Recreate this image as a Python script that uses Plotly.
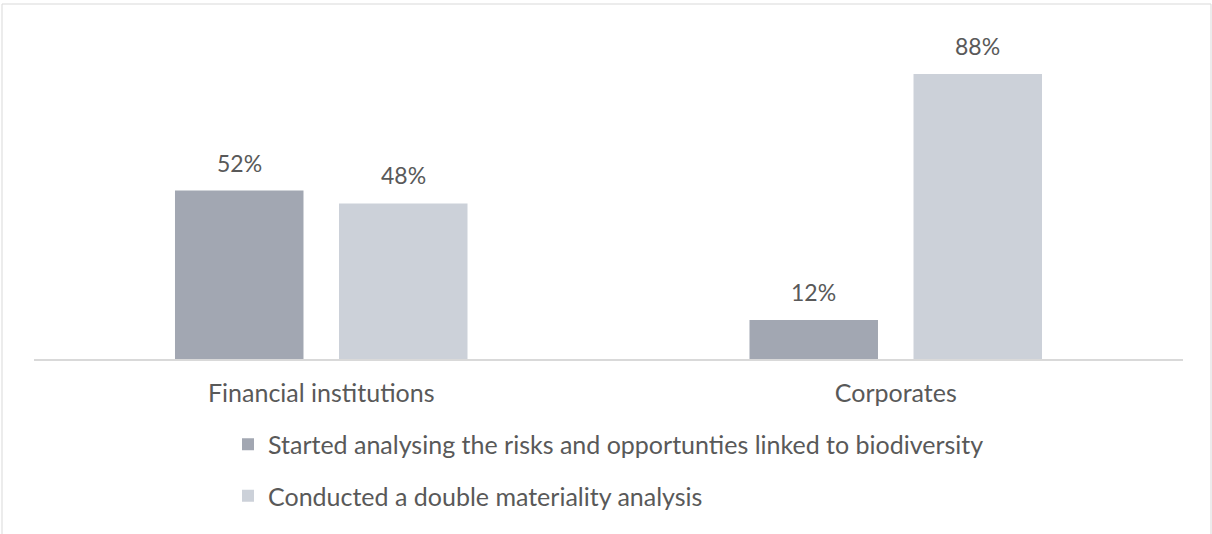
import plotly.graph_objects as go

categories = ["Financial institutions", "Corporates"]
series_names = [
    "Started analysing the risks and opportunties linked to biodiversity",
    "Conducted a double materiality analysis",
]
series_values = [
    [0.52, 0.12],
    [0.48, 0.88],
]
series_colors = ["#A2A7B2", "#CCD1D9"]
value_labels = [["52%", "12%"], ["48%", "88%"]]

FONT = "Lato, Open Sans, sans-serif"
TXT = "#595959"

fig = go.Figure()
for i, (name, vals, col) in enumerate(zip(series_names, series_values, series_colors)):
    fig.add_trace(go.Bar(
        x=categories, y=vals, name=name, marker=dict(color=col, line=dict(width=0)),
        legendgroup=f"g{i}", hoverinfo="skip",
    ))

offsets = [-82, 82]
for i in range(len(series_names)):
    for j, cat in enumerate(categories):
        fig.add_annotation(
            x=cat, y=series_values[i][j], text=value_labels[i][j], showarrow=False,
            xanchor="center", yanchor="bottom", xshift=offsets[i], yshift=12,
            font=dict(family=FONT, size=23, color=TXT),
        )

L, R, T, B = 34, 29, 35, 175
W, H = 1212, 534
pw, ph = W - L - R, H - T - B
fig.add_shape(
    type="rect", xref="paper", yref="paper",
    x0=(2 - L) / pw, x1=(1211 - L) / pw, y0=-(H - T - ph + 20) / ph, y1=(ph + T - 4) / ph,
    line=dict(color="#D9D9D9", width=1), fillcolor="rgba(0,0,0,0)", layer="below",
)

fig.update_layout(
    width=W, height=H, margin=dict(l=L, r=R, t=T, b=B),
    paper_bgcolor="white", plot_bgcolor="white",
    barmode="group", bargap=0.429, bargroupgap=0.2165,
    font=dict(family=FONT, size=25, color=TXT),
    showlegend=True,
    legend=dict(
        orientation="v", x=0.5, xanchor="center", y=-0.193, yanchor="top",
        font=dict(family=FONT, size=25, color=TXT), tracegroupgap=16,
        bgcolor="rgba(0,0,0,0)",
    ),
    xaxis=dict(
        showline=True, linecolor="#D9D9D9", linewidth=2, ticks="", showgrid=False,
        ticklabelstandoff=11, tickfont=dict(family=FONT, size=25, color=TXT), fixedrange=True,
    ),
    yaxis=dict(range=[0, 1], visible=False, showgrid=False, zeroline=False, fixedrange=True),
)

fig.write_html("out.html", config={"displayModeBar": False})
